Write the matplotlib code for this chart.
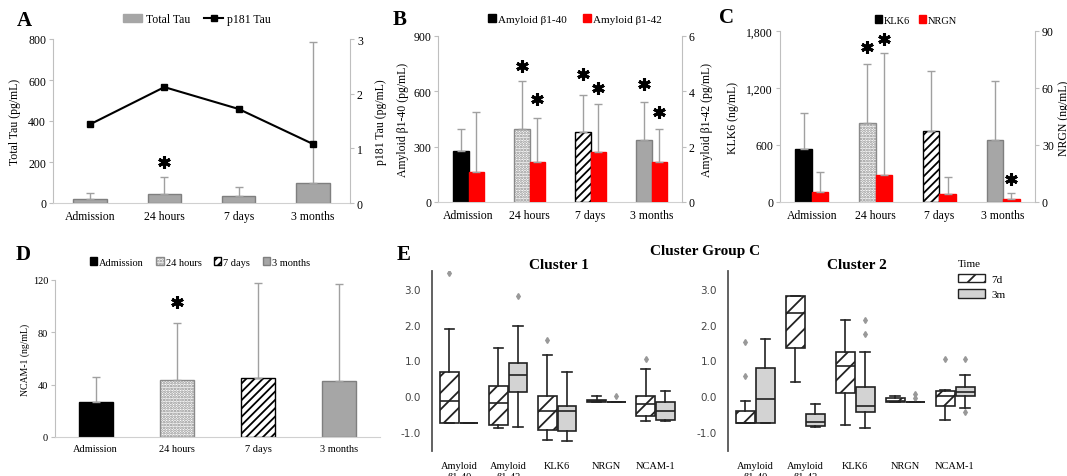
import matplotlib
matplotlib.use('Agg')
import matplotlib.pyplot as plt
from matplotlib.patches import Patch
from matplotlib.lines import Line2D
import numpy as np

W, H = 1067, 477
plt.rcParams['font.family'] = ['Liberation Serif', 'DejaVu Serif']
plt.rcParams['hatch.linewidth'] = 1.3

times = ['Admission', '24 hours', '7 days', '3 months']

# panel A
total_tau = [20, 45, 35, 100]
total_tau_top = [50, 125, 80, 785]
p181_tau = [1.44, 2.12, 1.72, 1.08]
a_star = [(1, 200)]

# panel B
ab40 = [274, 396, 378, 335]
ab40_top = [396, 657, 581, 544]
ab42 = [1.09, 1.44, 1.82, 1.44]
ab42_top = [3.25, 3.04, 3.56, 2.64]
b_star_40 = [(1, 738), (2, 693), (3, 639)]
b_star_42 = [(1, 558), (2, 616), (3, 486)]

# panel C
klk6 = [554, 835, 744, 649]
klk6_top = [940, 1456, 1375, 1274]
nrgn = [5.4, 14.4, 4.0, 1.6]
nrgn_top = [16, 78.4, 13.2, 4.7]
c_star_klk6 = [(1, 1631)]
c_star_nrgn = [(1, 1719), (3, 245)]

# panel D
ncam = [27.1, 43.6, 44.9, 42.6]
ncam_top = [45.7, 87.5, 117.5, 116.7]
d_star = [(1, 103.5)]

# panel E  (whislo, q1, med, q3, whishi)
markers_e = ['Amyloid\nβ1-40', 'Amyloid\nβ1-42', 'KLK6', 'NRGN', 'NCAM-1']
c1_7d = [(-0.74, -0.74, -0.13, 0.67, 1.87), (-0.89, -0.79, -0.18, 0.30, 1.34),
         (-1.21, -0.93, -0.41, 0.00, 1.14), (-0.16, -0.15, -0.13, -0.10, 0.02),
         (-0.69, -0.56, -0.23, 0.02, 0.77)]
c1_7d_fl = [[3.44], [], [1.56], [], [1.05]]
c1_3m = [(-0.74, -0.74, -0.74, -0.74, -0.74), (-0.86, 0.11, 0.60, 0.93, 1.95),
         (-1.25, -0.97, -0.41, -0.27, 0.67), (-0.16, -0.16, -0.16, -0.16, -0.16),
         (-0.69, -0.67, -0.40, -0.16, 0.14)]
c1_3m_fl = [[], [2.79], [], [0.0], []]
c2_7d = [(-0.74, -0.74, -0.74, -0.41, -0.12), (0.40, 1.35, 2.32, 2.81, 2.81),
         (-0.80, 0.10, 0.84, 1.23, 2.14), (-0.16, -0.16, -0.12, -0.04, 0.02),
         (-0.65, -0.26, 0.00, 0.14, 0.18)]
c2_7d_fl = [[0.56, 1.51], [], [], [], [1.05]]
c2_3m = [(-0.74, -0.74, -0.09, 0.79, 1.59), (-0.86, -0.83, -0.72, -0.49, -0.21),
         (-0.89, -0.44, -0.28, 0.27, 1.25), (-0.16, -0.16, -0.16, -0.16, -0.16),
         (-0.32, 0.00, 0.12, 0.27, 0.60)]
c2_3m_fl = [[], [], [1.74, 2.13], [0.07, -0.05], [1.05, -0.44]]

fig = plt.figure(figsize=(W / 100, H / 100), dpi=100)


def px_axes(l, t, r, b):
    return fig.add_axes([l / W, 1 - b / H, (r - l) / W, (b - t) / H])


def fx(x):
    return x / W


def fy(y):
    return 1 - y / H


def excel(ax, ticks, fmt=None, size=8.5):
    ax.spines['top'].set_visible(False)
    ax.spines['right'].set_visible(False)
    ax.spines['left'].set_color('#bfbfbf')
    ax.spines['bottom'].set_color('#d0d0d0')
    ax.set_xlim(-0.5, 3.5)
    ax.set_xticks(range(4))
    ax.set_xticklabels(times, fontsize=size)
    ax.tick_params(axis='x', length=0, pad=5)
    ax.set_yticks(ticks)
    ax.set_ylim(ticks[0], ticks[-1])
    if fmt:
        ax.set_yticklabels([fmt(t) for t in ticks])
    ax.tick_params(axis='y', length=3, color='#bfbfbf', labelsize=size, pad=2)


def twin(ax, ticks, size=8.5):
    ax2 = ax.twinx()
    for s in ['top', 'left', 'bottom']:
        ax2.spines[s].set_visible(False)
    ax2.spines['right'].set_color('#bfbfbf')
    ax2.set_yticks(ticks)
    ax2.set_ylim(ticks[0], ticks[-1])
    ax2.tick_params(axis='y', length=3, color='#bfbfbf', labelsize=size, pad=2)
    return ax2


def err(ax, x, vals, tops):
    vals = np.array(vals)
    up = np.array(tops) - vals
    ax.errorbar(x, vals, yerr=[np.zeros_like(up), up], fmt='none',
                ecolor='#a0a0a0', elinewidth=1, capsize=3, capthick=1, zorder=3)


def star(ax, pts, dx=0.0):
    for x, y in pts:
        ax.plot(x + dx, y, marker=(6, 2, 0), ms=9, mew=2.2, color='black',
                clip_on=False, zorder=5)


styles = [dict(color='black', edgecolor='black'),
          dict(color='white', edgecolor='#8a8a8a', hatch='......'),
          dict(color='white', edgecolor='black', hatch='////'),
          dict(color='#a6a6a6', edgecolor='#7f7f7f')]

# ---------------- A
axA = px_axes(53, 40, 350, 204)
excel(axA, [0, 200, 400, 600, 800])
x = np.arange(4)
axA.bar(x, total_tau, 0.45, color='#a6a6a6', edgecolor='#7f7f7f', lw=1, zorder=2)
err(axA, x, total_tau, total_tau_top)
star(axA, a_star)
axA2 = twin(axA, [0, 1, 2, 3])
axA2.plot(x, p181_tau, color='black', lw=1.5, marker='s', ms=4.5)
fig.text(fx(15), fy(122), 'Total Tau (pg/mL)', rotation=90, ha='center', va='center', fontsize=8.5)
fig.text(fx(381), fy(122), 'p181 Tau (pg/mL)', rotation=90, ha='center', va='center', fontsize=8.5)
fig.legend(handles=[Patch(facecolor='#a6a6a6', edgecolor='#a6a6a6', label='Total Tau'),
                    Line2D([], [], color='black', marker='s', ms=4, lw=1.5, label='p181 Tau')],
           loc='center', bbox_to_anchor=(fx(197), fy(20)), ncol=2, frameon=False,
           fontsize=8.5, handlelength=1.6, handleheight=0.6, handletextpad=0.3, columnspacing=1.2)

# ---------------- B
axB = px_axes(438, 37, 682, 203)
excel(axB, [0, 300, 600, 900])
bw = 0.26
for i in range(4):
    axB.bar(x[i] - bw / 2, ab40[i], bw, lw=1, zorder=2, **styles[i])
err(axB, x - bw / 2, ab40, ab40_top)
axB2 = twin(axB, [0, 2, 4, 6])
axB2.bar(x + bw / 2, ab42, bw, color='#ff0000', edgecolor='#ff0000', zorder=2)
err(axB2, x + bw / 2, ab42, ab42_top)
star(axB, b_star_40, -bw / 2)
star(axB, b_star_42, bw / 2)
fig.text(fx(403), fy(120), 'Amyloid β1-40 (pg/mL)', rotation=90, ha='center', va='center', fontsize=8.5)
fig.text(fx(707), fy(120), 'Amyloid β1-42 (pg/mL)', rotation=90, ha='center', va='center', fontsize=8.5)
fig.legend(handles=[Patch(color='black', label='Amyloid β1-40'), Patch(color='#ff0000', label='Amyloid β1-42')],
           loc='center', bbox_to_anchor=(fx(575), fy(20)), ncol=2, frameon=False, fontsize=8,
           handlelength=0.7, handleheight=0.7, handletextpad=0.2, columnspacing=1.5)

# ---------------- C
axC = px_axes(780, 32, 1035, 203)
excel(axC, [0, 600, 1200, 1800], fmt=lambda t: f'{t:,}')
for i in range(4):
    axC.bar(x[i] - bw / 2, klk6[i], bw, lw=1, zorder=2, **styles[i])
err(axC, x - bw / 2, klk6, klk6_top)
axC2 = twin(axC, [0, 30, 60, 90])
axC2.bar(x + bw / 2, nrgn, bw, color='#ff0000', edgecolor='#ff0000', zorder=2)
err(axC2, x + bw / 2, nrgn, nrgn_top)
star(axC, c_star_klk6, -bw / 2)
star(axC, c_star_nrgn, bw / 2)
fig.text(fx(733), fy(118), 'KLK6 (ng/mL)', rotation=90, ha='center', va='center', fontsize=8.5)
fig.text(fx(1064), fy(118), 'NRGN (ng/mL)', rotation=90, ha='center', va='center', fontsize=8.5)
fig.legend(handles=[Patch(color='black', label='KLK6'), Patch(color='#ff0000', label='NRGN')],
           loc='center', bbox_to_anchor=(fx(916), fy(21)), ncol=2, frameon=False, fontsize=7.5,
           handlelength=0.7, handleheight=0.7, handletextpad=0.2, columnspacing=0.8)

# ---------------- D
axD = px_axes(55, 281, 380, 438)
excel(axD, [0, 40, 80, 120], size=7.5)
for i in range(4):
    axD.bar(x[i], ncam[i], 0.42, lw=1, zorder=2, **styles[i])
err(axD, x, ncam, ncam_top)
star(axD, d_star)
fig.text(fx(25), fy(360), 'NCAM-1 (ng/mL)', rotation=90, ha='center', va='center', fontsize=7)
fig.legend(handles=[Patch(facecolor=s['color'], edgecolor=s['edgecolor'], hatch=s.get('hatch'), label=t)
                    for s, t in zip(styles, times)],
           loc='center', bbox_to_anchor=(fx(200), fy(263)), ncol=4, frameon=False, fontsize=7.5,
           handlelength=0.7, handleheight=0.7, handletextpad=0.2, columnspacing=1.2)

# ---------------- E
def stats(rows, fl):
    return [dict(whislo=r[0], q1=r[1], med=r[2], q3=r[3], whishi=r[4], fliers=f)
            for r, f in zip(rows, fl)]


def cluster(ax, s7, f7, s3, f3, title):
    pos = np.arange(5)
    common = dict(widths=0.38, patch_artist=True, showfliers=True,
                  whiskerprops=dict(color='#222', lw=1.2),
                  capprops=dict(color='#222', lw=1.2),
                  medianprops=dict(color='#222', lw=1.2),
                  flierprops=dict(marker='d', ms=3, markerfacecolor='#999', markeredgecolor='#999'))
    b7 = ax.bxp(stats(s7, f7), positions=pos - 0.2,
                boxprops=dict(facecolor='white', edgecolor='#222', lw=1.2, hatch='//'), **common)
    b3 = ax.bxp(stats(s3, f3), positions=pos + 0.2,
                boxprops=dict(facecolor='#d3d3d3', edgecolor='#222', lw=1.2), **common)
    ax.set_xlim(-0.55, 4.6)
    ax.set_ylim(-1.53, 3.5)
    ax.set_yticks([-1, 0, 1, 2, 3])
    ax.set_yticklabels(['-1.0', '0.0', '1.0', '2.0', '3.0'], family='DejaVu Sans', color='#444')
    ax.set_xticks(pos)
    ax.set_xticklabels(markers_e, fontsize=7.5, linespacing=1.3, va='top')
    ax.tick_params(axis='y', length=0, labelsize=7.5, pad=8)
    ax.tick_params(axis='x', length=0, pad=7)
    for s in ['top', 'right', 'bottom']:
        ax.spines[s].set_visible(False)
    ax.spines['left'].set_color('#555')
    ax.spines['left'].set_linewidth(1.3)
    ax.set_title(title, fontsize=11, fontweight='bold', pad=1)


axE1 = px_axes(432, 272, 685, 452)
cluster(axE1, c1_7d, c1_7d_fl, c1_3m, c1_3m_fl, 'Cluster 1')
axE2 = px_axes(728, 272, 985, 452)
cluster(axE2, c2_7d, c2_7d_fl, c2_3m, c2_3m_fl, 'Cluster 2')
fig.text(fx(705), fy(252), 'Cluster Group C', ha='center', va='center', fontsize=11, fontweight='bold')
leg = fig.legend(handles=[Patch(facecolor='white', edgecolor='#222', hatch='//', label='7d'),
                          Patch(facecolor='#d3d3d3', edgecolor='#222', label='3m')],
                 title='Time', loc='upper left', bbox_to_anchor=(fx(948), fy(250)), frameon=False,
                 fontsize=8, title_fontsize=8, handlelength=2.4, handleheight=0.8, handletextpad=0.6,
                 labelspacing=0.5)
leg._legend_box.align = 'left'

# ---------------- panel letters
for lab, (px, py) in zip('ABCDE', [(24, 21), (400, 20), (727, 18), (23, 255), (404, 255)]):
    fig.text(fx(px), fy(py), lab, ha='center', va='center', fontsize=15, fontweight='bold')

fig.savefig('out.png', dpi=100)
